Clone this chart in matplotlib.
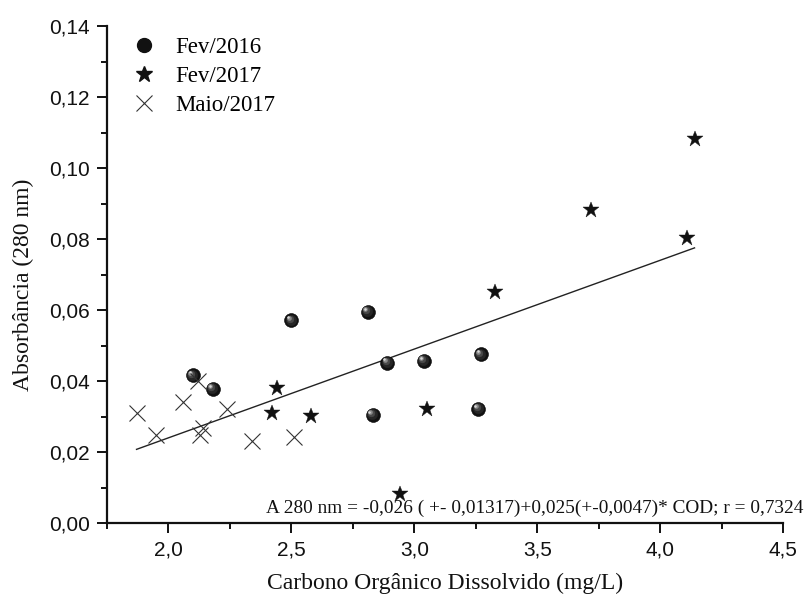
import matplotlib
matplotlib.use("Agg")
import matplotlib.pyplot as plt
import matplotlib.transforms as mtransforms
from matplotlib.lines import Line2D
from matplotlib.ticker import MultipleLocator, FuncFormatter
import numpy as np

# Dissolved organic carbon (mg/L) and absorbance at 280 nm for each campaign
cod_fev2016 = [2.10, 2.18, 2.50, 2.81, 2.89, 3.04, 2.83, 3.27, 3.26]
abs_fev2016 = [0.0416, 0.0378, 0.0571, 0.0595, 0.0452, 0.0456, 0.0305, 0.0475, 0.0321]

cod_fev2017 = [2.44, 2.42, 2.58, 3.05, 2.94, 3.33, 3.72, 4.11, 4.14]
abs_fev2017 = [0.0381, 0.0310, 0.0301, 0.0321, 0.0081, 0.0652, 0.0882, 0.0803, 0.1081]

cod_mai2017 = [1.87, 1.95, 2.06, 2.12, 2.14, 2.13, 2.24, 2.34, 2.51]
abs_mai2017 = [0.0310, 0.0249, 0.0340, 0.0400, 0.0268, 0.0249, 0.0320, 0.0230, 0.0241]

# Linear fit A280 = a + b * COD
fit_intercept = -0.026
fit_slope = 0.025
fit_label = "A 280 nm = -0,026 ( +- 0,01317)+0,025(+-0,0047)* COD; r = 0,7324"

series_labels = ["Fev/2016", "Fev/2017", "Maio/2017"]

serif = ["Liberation Serif", "DejaVu Serif"]
sans = ["Liberation Sans", "DejaVu Sans"]

fig = plt.figure(figsize=(8.06, 6.02), dpi=100)
ax = fig.add_axes([0.1328, 0.1312, 0.8387, 0.8256])

# shaded spheres: stacked circles, lighter and shifted toward the upper left
sphere_layers = [
    (10.0, "#111111", 0.0, 0.0),
    (7.4, "#262626", -0.5, 0.5),
    (4.8, "#4a4a4a", -1.2, 1.2),
    (2.8, "#8c8c8c", -1.9, 1.9),
    (1.3, "#d8d8d8", -2.2, 2.2),
]
for ms, col, dx, dy in sphere_layers:
    tr = mtransforms.offset_copy(ax.transData, fig=fig, x=dx, y=dy, units="points")
    ax.plot(cod_fev2016, abs_fev2016, linestyle="none", marker="o", markersize=ms,
            markerfacecolor=col, markeredgecolor=col if ms < 9 else "#000000",
            markeredgewidth=0.4, transform=tr, zorder=3)

ax.plot(cod_fev2017, abs_fev2017, linestyle="none", marker="*", markersize=12,
        color="#111111", markeredgewidth=0.3, zorder=3)

ax.plot(cod_mai2017, abs_mai2017, linestyle="none", marker="x", markersize=11,
        color="#333333", markeredgewidth=0.8, zorder=3)

# regression line over the observed COD range
all_cod = np.array(cod_fev2016 + cod_fev2017 + cod_mai2017)
xfit = np.array([all_cod.min(), all_cod.max()])
ax.plot(xfit, fit_intercept + fit_slope * xfit, color="#222222", linewidth=1.0, zorder=2)

ax.text(1.0296, 0.020, fit_label, transform=ax.transAxes, ha="right", va="baseline",
        fontsize=13.9, family=serif, color="#111111", clip_on=False)

# axes styling
ax.set_xlim(1.75, 4.5)
ax.set_ylim(0.0, 0.14)
ax.xaxis.set_major_locator(MultipleLocator(0.5))
ax.xaxis.set_minor_locator(MultipleLocator(0.25))
ax.yaxis.set_major_locator(MultipleLocator(0.02))
ax.yaxis.set_minor_locator(MultipleLocator(0.01))
ax.xaxis.set_major_formatter(FuncFormatter(lambda v, p: f"{v:.1f}".replace(".", ",")))
ax.yaxis.set_major_formatter(FuncFormatter(lambda v, p: f"{v:.2f}".replace(".", ",")))

for side in ("top", "right"):
    ax.spines[side].set_visible(False)
for side in ("left", "bottom"):
    ax.spines[side].set_linewidth(1.6)
    ax.spines[side].set_color("#111111")

ax.tick_params(which="major", direction="out", length=7.5, width=1.4, color="#111111",
               labelsize=15, labelcolor="#111111", pad=5)
ax.tick_params(which="minor", direction="out", length=4, width=1.4, color="#111111")
for lbl in ax.get_xticklabels() + ax.get_yticklabels():
    lbl.set_family(sans)

ax.set_xlabel("Carbono Orgânico Dissolvido (mg/L)", family=serif, fontsize=17,
              color="#111111", labelpad=10)
ax.set_ylabel("Absorbância (280 nm)", family=serif, fontsize=17,
              color="#111111", labelpad=6)
ax.yaxis.set_label_coords(-0.108, 0.48)

handles = [
    Line2D([], [], linestyle="none", marker="o", markersize=10, color="#111111"),
    Line2D([], [], linestyle="none", marker="*", markersize=12, color="#111111"),
    Line2D([], [], linestyle="none", marker="x", markersize=11, color="#333333",
           markeredgewidth=0.8),
]
ax.legend(handles, series_labels, loc="upper left", bbox_to_anchor=(0.01, 1.01),
          frameon=False, prop={"family": serif, "size": 16.5}, handletextpad=0.8,
          labelspacing=0.35, handlelength=1.2, borderaxespad=0.3)

fig.savefig("out.png", dpi=100, facecolor="white")
